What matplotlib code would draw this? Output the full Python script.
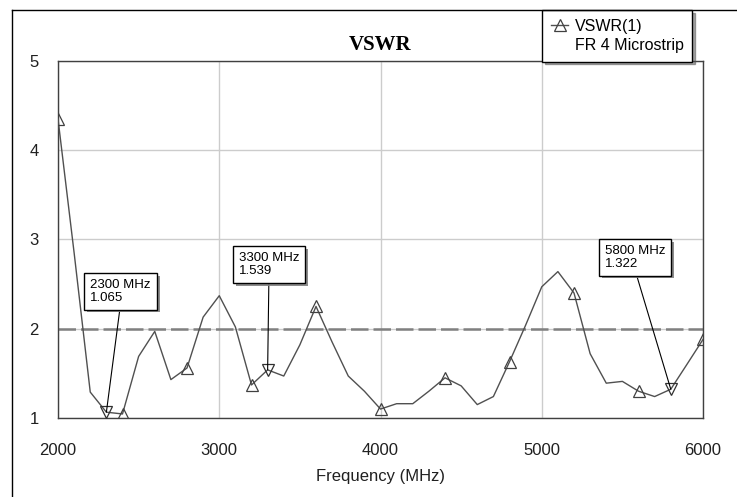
import matplotlib
matplotlib.use("Agg")
import matplotlib.pyplot as plt
import matplotlib.patheffects as pe
from matplotlib.lines import Line2D

plt.rcParams['font.family'] = ['Liberation Sans', 'DejaVu Sans']

# sweep data
freq = [2000, 2100, 2200, 2300, 2400, 2500, 2600, 2700, 2800, 2900,
        3000, 3100, 3200, 3300, 3400, 3500, 3600, 3700, 3800, 3900,
        4000, 4100, 4200, 4300, 4400, 4500, 4600, 4700, 4800, 4900,
        5000, 5100, 5200, 5300, 5400, 5500, 5600, 5700, 5800, 5900, 6000]
vswr = [4.35, 2.85, 1.29, 1.065, 1.045, 1.69, 1.97, 1.43, 1.56, 2.13,
        2.37, 2.02, 1.37, 1.539, 1.47, 1.82, 2.25, 1.85, 1.47, 1.30,
        1.10, 1.16, 1.16, 1.30, 1.45, 1.36, 1.15, 1.24, 1.63, 2.04,
        2.47, 2.64, 2.40, 1.72, 1.39, 1.41, 1.30, 1.24, 1.322, 1.60, 1.88]

# marker readouts
mark_freq = [2300, 3300, 5800]
mark_vswr = [1.065, 1.539, 1.322]
# where the readout boxes sit (data coords, box centre)
box_pos = [(2388, 2.42), (3308, 2.72), (5578, 2.80)]

threshold = 2
xticks = [2000, 3000, 4000, 5000, 6000]
yticks = [1, 2, 3, 4, 5]

fig = plt.figure(figsize=(7.37, 4.97), dpi=100)
ax = fig.add_axes([0.0787, 0.1590, 0.8752, 0.7183])

ax.set_xlim(2000, 6000)
ax.set_ylim(1, 5)
ax.set_xticks(xticks)
ax.set_yticks(yticks)
ax.tick_params(length=0, labelsize=12, colors='#202020')
ax.tick_params(axis='x', pad=18)
ax.tick_params(axis='y', pad=14)
for t in ax.get_yticklabels():
    t.set_va('center_baseline')
ax.grid(True, color='#cccccc', lw=1)
ax.set_axisbelow(True)
for s in ax.spines.values():
    s.set_color('#404040')
    s.set_linewidth(1)

ax.axhline(threshold, color='#808080', lw=1.8, dashes=(7, 2), zorder=2)

line, = ax.plot(freq, vswr, color='#505050', lw=1, marker='^', markevery=4,
                markersize=8.5, markerfacecolor='none', markeredgecolor='#404040',
                markeredgewidth=0.9, zorder=3)
ax.plot(mark_freq, mark_vswr, 'v', markersize=8.5, markerfacecolor='none',
        markeredgecolor='#303030', markeredgewidth=0.9, zorder=4)

for f, v, (bx, by) in zip(mark_freq, mark_vswr, box_pos):
    ann = ax.annotate(f"{f} MHz\n{v:.3f}", xy=(f, v), xytext=(bx, by),
                      textcoords='data', ha='center', va='center',
                      multialignment='left', fontsize=9.5, linespacing=1.1,
                      bbox=dict(boxstyle='square,pad=0.45', fc='white', ec='black', lw=1),
                      arrowprops=dict(arrowstyle='-', color='black', lw=0.8,
                                      relpos=(0.5, 0), shrinkA=0, shrinkB=0),
                      zorder=5)
    ann.get_bbox_patch().set_path_effects([
        pe.SimplePatchShadow(offset=(2, -2), shadow_rgbFace='#808080', alpha=0.9),
        pe.Normal()])

ax.set_title("VSWR", fontfamily='Liberation Serif', fontweight='bold',
             fontsize=15, pad=8)
ax.set_xlabel("Frequency (MHz)", fontsize=12, labelpad=8, color='#202020')

# legend sits in the top right, partly above the plot frame
blank = Line2D([], [], color='none')
leg = ax.legend([line, blank], ["VSWR(1)", "FR 4 Microstrip"],
                loc='upper left', bbox_to_anchor=(0.7354, 0.980),
                bbox_transform=fig.transFigure, borderaxespad=0,
                fancybox=False, shadow=True, fontsize=11.5, handlelength=1.1,
                handletextpad=0.4, labelspacing=0.25, borderpad=0.55,
                framealpha=1, edgecolor='black')
leg.get_frame().set_linewidth(1)
leg.set_zorder(10)

# outer chart frame (left and top edges)
fig.add_artist(Line2D([12 / 737, 12 / 737], [0, 1 - 10 / 497],
                      transform=fig.transFigure, color='black', lw=1))
fig.add_artist(Line2D([12 / 737, 1], [1 - 10 / 497, 1 - 10 / 497],
                      transform=fig.transFigure, color='black', lw=1))

fig.savefig("out.png", dpi=100)
